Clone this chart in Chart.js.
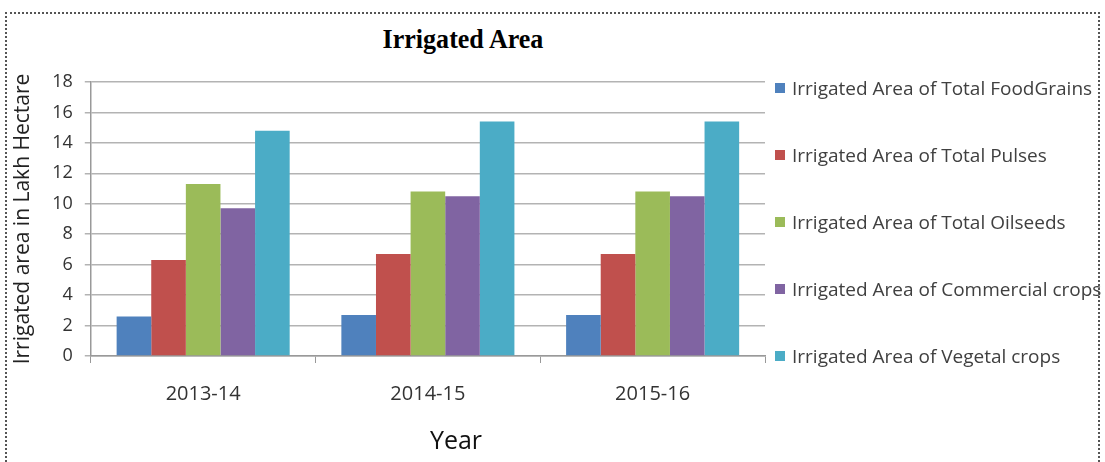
<!DOCTYPE html>
<html>
<head>
<meta charset="utf-8">
<script src="https://cdn.jsdelivr.net/npm/chart.js@4/dist/chart.umd.min.js"></script>
<style>
  html, body { margin: 0; padding: 0; background: #fff; }
  #wrap { position: relative; width: 1105px; height: 462px; overflow: hidden; }
  #frame {
    position: absolute; left: 5px; top: 12px; width: 1095px; height: 470px;
    border: 2px dotted #555; box-sizing: border-box;
  }
  #title {
    position: absolute; left: 463px; top: 25px; line-height: 1;
    transform: translateX(-50%) scaleX(0.93);
    font-family: "Liberation Serif", "DejaVu Serif", serif; font-weight: bold;
    font-size: 28px; color: #000; white-space: nowrap;
  }
  #xtitle {
    position: absolute; left: 456px; top: 427px; line-height: 1;
    transform: translateX(-50%);
    font-family: "Open Sans", sans-serif; font-size: 25px; color: #111;
  }
  #c { position: absolute; left: 0; top: 0; }
  #legend { position: absolute; left: 775px; top: 54px; }
  .item {
    height: 67px; display: flex; align-items: center;
    font-family: "Open Sans", sans-serif; font-size: 19px; color: #404040; white-space: nowrap;
  }
  .box { width: 10px; height: 10px; margin-right: 7px; flex: none; }
</style>
</head>
<body>
<div id="wrap">
  <div id="frame"></div>
  <div id="title">Irrigated Area</div>
  <canvas id="c" width="1105" height="462"></canvas>
  <div id="xtitle">Year</div>
  <div id="legend"></div>
</div>
<script>
  // data
  const years = ["2013-14", "2014-15", "2015-16"];
  const foodGrains = [2.6, 2.7, 2.7];
  const pulses = [6.3, 6.7, 6.7];
  const oilseeds = [11.3, 10.8, 10.8];
  const commercialCrops = [9.7, 10.5, 10.5];
  const vegetalCrops = [14.8, 15.4, 15.4];

  const seriesNames = [
    "Irrigated Area of Total FoodGrains",
    "Irrigated Area of Total Pulses",
    "Irrigated Area of Total Oilseeds",
    "Irrigated Area of Commercial crops",
    "Irrigated Area of Vegetal crops"
  ];
  const seriesData = [foodGrains, pulses, oilseeds, commercialCrops, vegetalCrops];
  const seriesColors = ["#4F81BD", "#C0504D", "#9BBB59", "#8064A2", "#4BACC6"];

  const font = "'Open Sans', sans-serif";

  // legend on the right, one row per series
  const legend = document.getElementById("legend");
  seriesNames.forEach((name, i) => {
    const row = document.createElement("div");
    row.className = "item";
    row.innerHTML = '<span class="box" style="background:' + seriesColors[i] + '"></span>' + name;
    legend.appendChild(row);
  });

  new Chart(document.getElementById("c"), {
    type: "bar",
    data: {
      labels: years,
      datasets: seriesData.map((d, i) => ({
        label: seriesNames[i],
        data: d,
        backgroundColor: seriesColors[i],
        borderWidth: 0,
        barPercentage: 1,
        categoryPercentage: 0.77
      }))
    },
    options: {
      responsive: false,
      animation: false,
      layout: { padding: { left: 10, top: 82, right: 340, bottom: 37 } },
      plugins: {
        tooltip: { enabled: false },
        legend: { display: false }
      },
      scales: {
        x: {
          grid: { drawOnChartArea: false, color: "#999", tickLength: 7 },
          border: { color: "#999", width: 1.5 },
          ticks: { color: "#333", padding: 19, font: { family: font, size: 20 } }
        },
        y: {
          min: 0, max: 18,
          ticks: { stepSize: 2, color: "#333", padding: 12, font: { family: font, size: 18 } },
          grid: { color: "#b3b3b3", lineWidth: 1.5, tickLength: 6 },
          border: { color: "#999", width: 1.5 },
          title: {
            display: true, text: "Irrigated area in Lakh Hectare", color: "#222",
            font: { family: font, size: 21 }, padding: { top: 0, bottom: 5 }
          }
        }
      }
    }
  });
</script>
</body>
</html>
